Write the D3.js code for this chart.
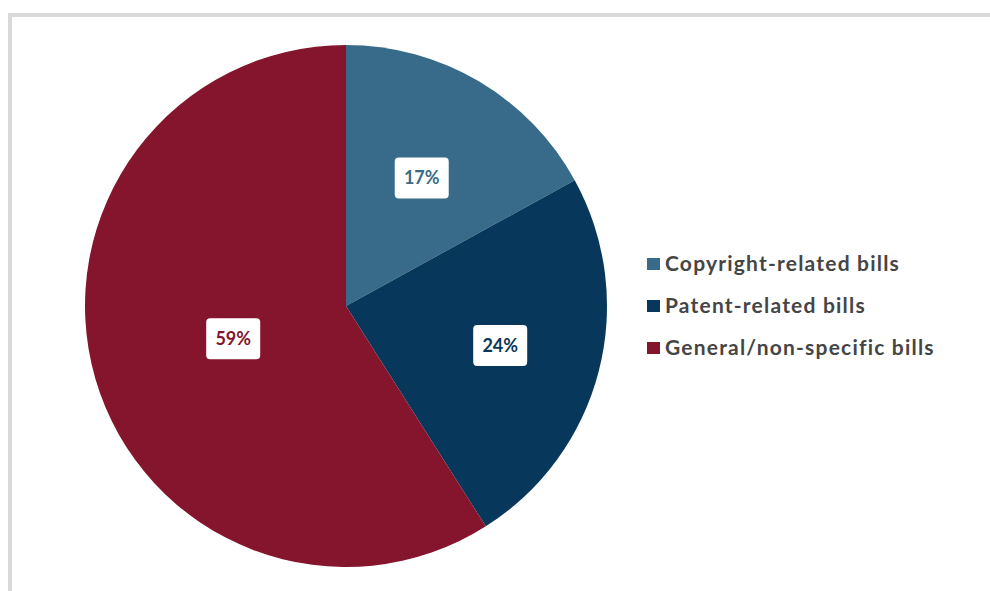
<!DOCTYPE html>
<html>
<head>
<meta charset="utf-8">
<script src="https://cdn.jsdelivr.net/npm/d3@7/dist/d3.min.js"></script>
<style>
  html, body { margin: 0; padding: 0; background: #fff; }
  svg { display: block; }
</style>
</head>
<body>
<svg id="chart" width="990" height="591"></svg>
<script>
// Share of bills by subject
const categories = ["Copyright-related bills", "Patent-related bills", "General/non-specific bills"];
const shares = [17, 24, 59];
const sliceColors = ["#376b89", "#07375a", "#84152c"];

// Label distance from the centre, as a fraction of the radius
const labelRadiusFrac = [0.57, 0.61, 0.45];

const W = 990, H = 591;
const cx = 346, cy = 306, R = 261;
const FONT = "'Lato', 'Open Sans', sans-serif";

const svg = d3.select("#chart");

// Frame: grey rules along the top and left edges
svg.append("rect").attr("x", 8).attr("y", 13).attr("width", W - 8).attr("height", 4).attr("fill", "#d9d9d9");
svg.append("rect").attr("x", 8).attr("y", 13).attr("width", 4).attr("height", H - 13).attr("fill", "#d9d9d9");

const data = categories.map((c, i) => ({ name: c, value: shares[i], color: sliceColors[i], lf: labelRadiusFrac[i] }));

const pie = d3.pie().value(d => d.value).sort(null);
const arcs = pie(data);
const arc = d3.arc().innerRadius(0).outerRadius(R);

const g = svg.append("g").attr("transform", `translate(${cx},${cy})`);

g.selectAll("path.slice")
  .data(arcs)
  .join("path")
  .attr("class", "slice")
  .attr("d", arc)
  .attr("fill", d => d.data.color);

// Percentage labels in white rounded boxes
const boxW = 54, boxH = 41;
const labels = g.selectAll("g.lbl")
  .data(arcs)
  .join("g")
  .attr("class", "lbl")
  .attr("transform", d => {
    const a = (d.startAngle + d.endAngle) / 2;
    const r = R * d.data.lf;
    return `translate(${r * Math.sin(a)},${-r * Math.cos(a)})`;
  });

labels.append("rect")
  .attr("x", -boxW / 2).attr("y", -boxH / 2)
  .attr("width", boxW).attr("height", boxH)
  .attr("rx", 4).attr("ry", 4)
  .attr("fill", "#fff");

labels.append("text")
  .attr("text-anchor", "middle")
  .attr("dy", "0.36em")
  .attr("font-family", FONT)
  .attr("font-weight", 700)
  .attr("font-size", 18)
  .attr("fill", d => d.data.color)
  .text(d => d.data.value + "%");

// Legend
const legendX = 647, legendY0 = 263, legendStep = 42;
const legend = svg.selectAll("g.leg")
  .data(data)
  .join("g")
  .attr("class", "leg")
  .attr("transform", (d, i) => `translate(${legendX},${legendY0 + i * legendStep})`);

legend.append("rect")
  .attr("x", 0).attr("y", -5)
  .attr("width", 13).attr("height", 12)
  .attr("fill", d => d.color);

legend.append("text")
  .attr("x", 18)
  .attr("dy", "0.36em")
  .attr("font-family", FONT)
  .attr("font-weight", 700)
  .attr("font-size", 21)
  .attr("letter-spacing", 1.2)
  .attr("fill", "#454545")
  .text(d => d.name);
</script>
</body>
</html>
